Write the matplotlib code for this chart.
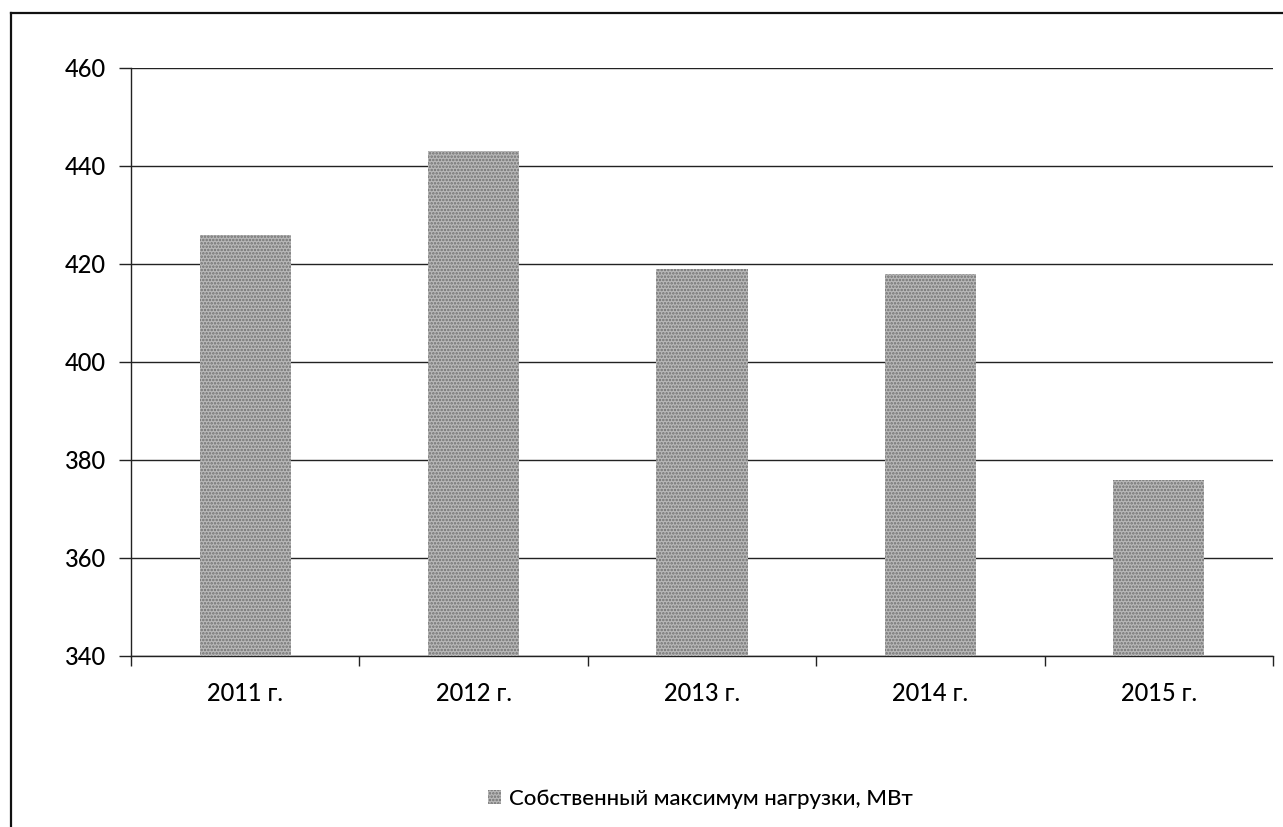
import matplotlib
matplotlib.use("Agg")
import matplotlib.pyplot as plt
from matplotlib.lines import Line2D
from matplotlib.patches import Patch

plt.rcParams['font.family'] = ['Lato', 'DejaVu Sans']
plt.rcParams['font.weight'] = 'medium'
plt.rcParams['hatch.linewidth'] = 1.2

# Собственный максимум нагрузки по годам
years = ['2011 г.', '2012 г.', '2013 г.', '2014 г.', '2015 г.']
max_load = [426, 443, 419, 418, 376]
y_ticks = [340, 360, 380, 400, 420, 440, 460]
series_name = 'Собственный максимум нагрузки, МВт'

bar_face = '#b8b8b8'
bar_hatch = '#707070'
line_col = '#222222'

fig = plt.figure(figsize=(12.83, 8.27), dpi=100)
ax = fig.add_axes([0.1021, 0.2068, 0.8901, 0.711])

x = list(range(len(years)))
ax.bar(x, max_load, width=0.40, bottom=0, color=bar_face,
       hatch='.....', edgecolor=bar_hatch, linewidth=0, zorder=3)

ax.set_ylim(340, 460)
ax.set_xlim(-0.5, len(years) - 0.5)
ax.set_yticks(y_ticks)
ax.yaxis.grid(True, color=line_col, linewidth=1.0, zorder=1)
ax.set_axisbelow(True)

# category labels centred, tick marks on category boundaries
ax.set_xticks(x)
ax.set_xticklabels(years)
ax.set_xticks([i - 0.5 for i in range(len(years) + 1)], minor=True)
ax.tick_params(axis='x', which='major', length=0, pad=19, labelsize=17,
               labelcolor='black')
ax.tick_params(axis='x', which='minor', length=7, width=1, color=line_col, direction='out')
ax.tick_params(axis='y', length=9, width=1, color=line_col, pad=9, labelsize=17,
               labelcolor='black')

for side in ['top', 'right']:
    ax.spines[side].set_visible(False)
for side in ['left', 'bottom']:
    ax.spines[side].set_color(line_col)
    ax.spines[side].set_linewidth(1.0)

handle = Patch(facecolor=bar_face, hatch='.....', edgecolor=bar_hatch, linewidth=0)
fig.legend([handle], [series_name], loc='center', bbox_to_anchor=(0.546, 0.034),
           frameon=False, fontsize=16, handlelength=0.6, handleheight=0.6,
           handletextpad=0.35)

# outer chart frame
fig.add_artist(Line2D([0.0086, 0.0086], [0.0, 0.984], color='#111111', lw=1.6,
                      transform=fig.transFigure))
fig.add_artist(Line2D([0.0086, 1.0], [0.984, 0.984], color='#111111', lw=1.6,
                      transform=fig.transFigure))

fig.savefig('out.png', dpi=100)
